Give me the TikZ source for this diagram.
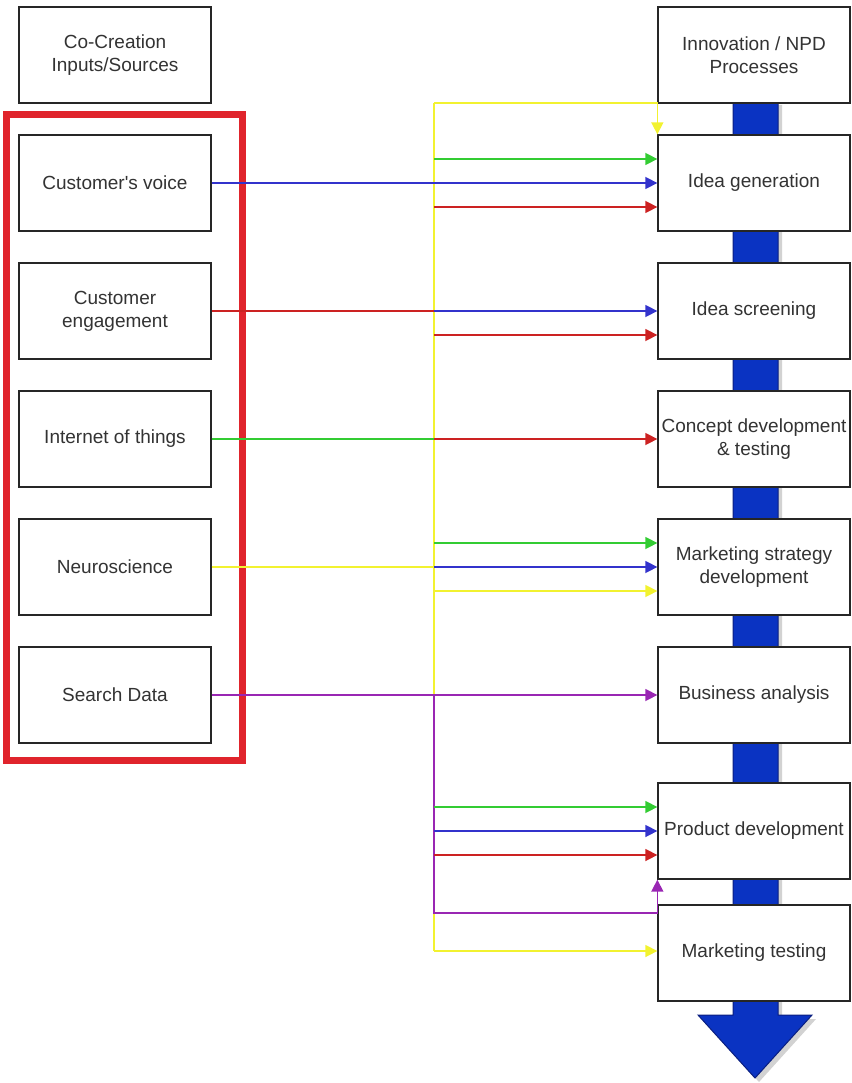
\documentclass[tikz,border=0pt]{standalone}
\usepackage{fontspec}
\setmainfont{Liberation Sans}
\usetikzlibrary{arrows.meta,calc}
\definecolor{cgreen}{HTML}{33CC33}
\definecolor{cblue}{HTML}{3333CC}
\definecolor{cred}{HTML}{CC2222}
\definecolor{cyellow}{HTML}{F2F230}
\definecolor{cpurple}{HTML}{9926B3}
\definecolor{framered}{HTML}{E0242C}
\definecolor{flow}{HTML}{0A33C2}
\definecolor{flowedge}{HTML}{0A1F80}
\definecolor{ink}{HTML}{333333}
\begin{document}
\begin{tikzpicture}[x=1pt,y=-1pt,
  box/.style={draw=black!85, line width=1.3pt, fill=white,
    minimum width=192pt, minimum height=96pt, align=center,
    font=\fontsize{19}{23}\selectfont, text=ink, inner sep=0pt},
  link/.style={line width=1.5pt},
  tip/.style={-{Triangle[length=12pt,width=12pt]}}]
\useasboundingbox (0,0) rectangle (851,1083);

% process flow arrow behind the process boxes
\fill[gray!35] (737,105) -- (782,105) -- (782,1019) -- (816,1019) -- (759,1082) -- (702,1019) -- (737,1019) -- cycle;
\filldraw[fill=flow, draw=flowedge, line width=1pt]
  (733,101) -- (778,101) -- (778,1015) -- (812,1015) -- (755,1078) -- (698,1015) -- (733,1015) -- cycle;

% co-creation sources
\node[box] (cc)  at (115,55)  {Co-Creation\\Inputs/Sources};
\node[box] (cv)  at (115,183) {Customer\textquotesingle s voice};
\node[box] (ce)  at (115,311) {Customer\\engagement};
\node[box] (iot) at (115,439) {Internet of things};
\node[box] (ns)  at (115,567) {Neuroscience};
\node[box] (sd)  at (115,695) {Search Data};
\node[draw=framered, line width=7pt, minimum width=236pt, minimum height=645pt, inner sep=0pt] (grp) at (124,437.5) {};

% NPD process steps
\node[box] (np) at (754,55)  {Innovation / NPD\\Processes};
\node[box] (ig) at (754,183) {Idea generation};
\node[box] (is) at (754,311) {Idea screening};
\node[box] (cd) at (754,439) {Concept development\\\& testing};
\node[box] (ms) at (754,567) {Marketing strategy\\development};
\node[box] (ba) at (754,695) {Business analysis};
\node[box] (pd) at (754,831) {Product development};
\node[box] (mt) at (754,953) {Marketing testing};

% routing helpers
\coordinate (bus) at (434,0);
\coordinate (ytop) at (434,103);
\coordinate (ybot) at ([yshift=2pt]mt.west -| bus);
\coordinate (pbot) at (434,913);
\coordinate (igG) at ([yshift=24pt]ig.west);
\coordinate (igR) at ([yshift=-24pt]ig.west);
\coordinate (isR) at ([yshift=-24pt]is.west);
\coordinate (msG) at ([yshift=24pt]ms.west);
\coordinate (msY) at ([yshift=-24pt]ms.west);
\coordinate (pdG) at ([yshift=24pt]pd.west);
\coordinate (pdR) at ([yshift=-24pt]pd.west);

% yellow: neuroscience
\draw[link,cyellow] (ns.east) -- (ns.east -| bus);
\draw[link,cyellow] (ytop) -- (ybot);
\draw[link,cyellow,tip] (ytop) -- (ytop -| ig.north west) -- (ig.north west);
\draw[link,cyellow,tip] (msY -| bus) -- (msY);
\draw[link,cyellow,tip] (ybot) -- (ybot -| mt.west);

% purple: search data
\draw[link,cpurple,tip] (sd.east) -- (ba.west);
\draw[link,cpurple,tip] (sd.east -| bus) -- (pbot) -- (pbot -| pd.south west) -- (pd.south west);

% green: internet of things
\draw[link,cgreen] (iot.east) -- (iot.east -| bus);
\draw[link,cgreen,tip] (igG -| bus) -- (igG);
\draw[link,cgreen,tip] (msG -| bus) -- (msG);
\draw[link,cgreen,tip] (pdG -| bus) -- (pdG);

% blue: customer's voice
\draw[link,cblue,tip] (cv.east) -- (ig.west);
\draw[link,cblue,tip] (is.west -| bus) -- (is.west);
\draw[link,cblue,tip] (ms.west -| bus) -- (ms.west);
\draw[link,cblue,tip] (pd.west -| bus) -- (pd.west);

% red: customer engagement
\draw[link,cred] (ce.east) -- (ce.east -| bus);
\draw[link,cred,tip] (igR -| bus) -- (igR);
\draw[link,cred,tip] (isR -| bus) -- (isR);
\draw[link,cred,tip] (cd.west -| bus) -- (cd.west);
\draw[link,cred,tip] (pdR -| bus) -- (pdR);
\end{tikzpicture}
\end{document}
